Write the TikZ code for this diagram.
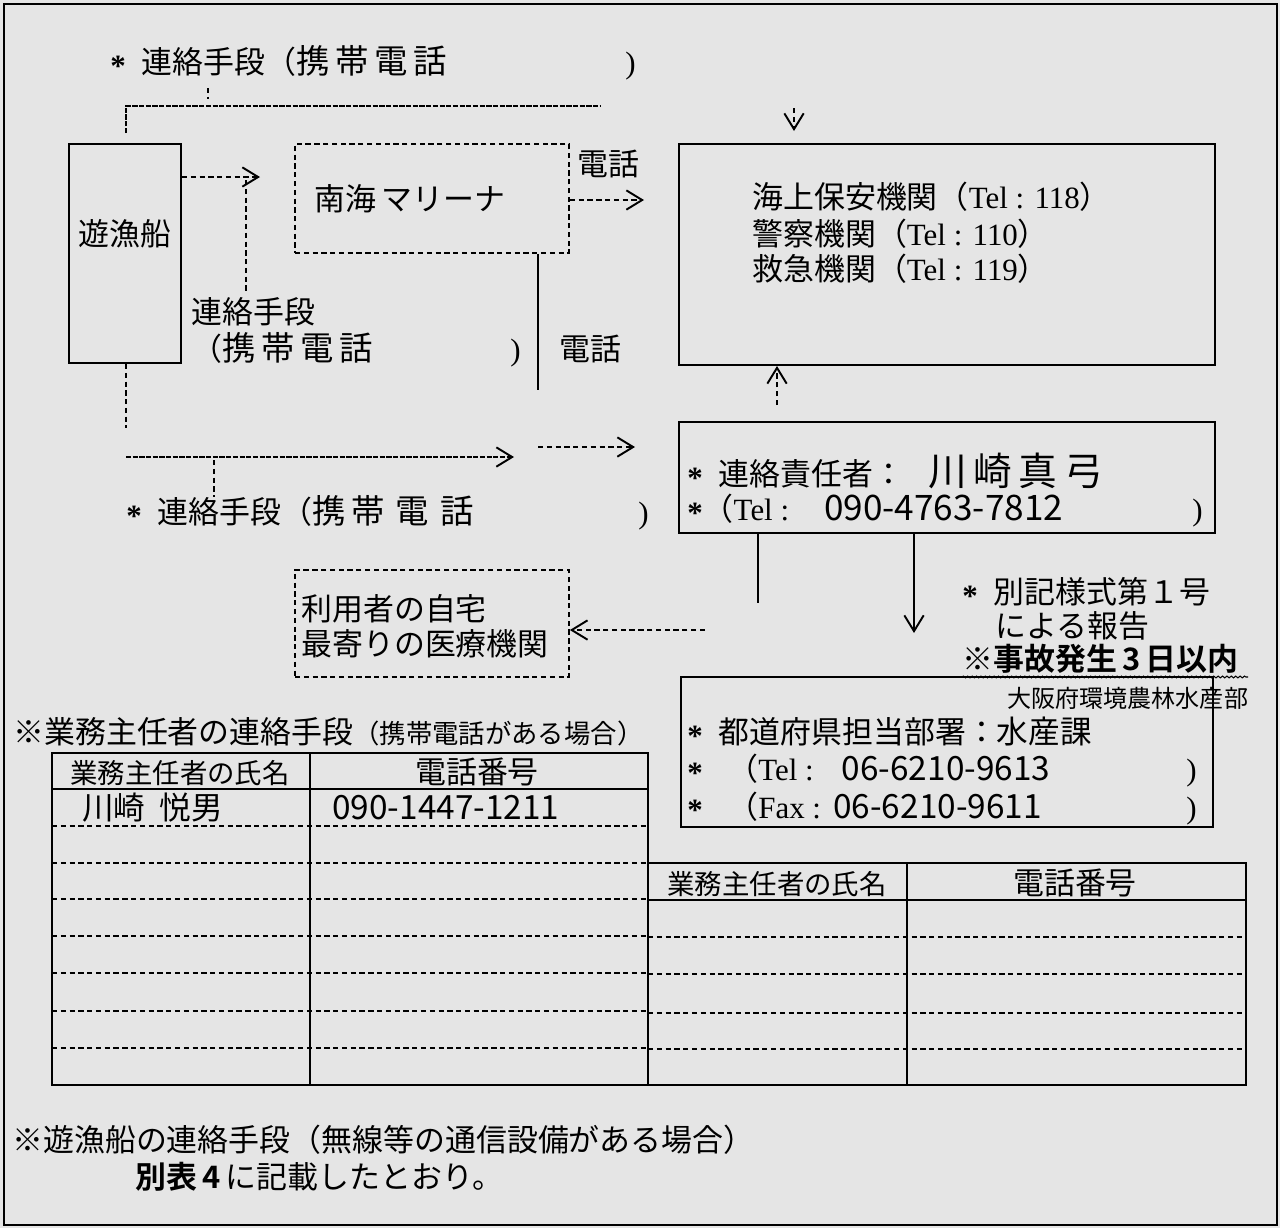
\documentclass[tikz,border=0pt]{standalone}
\usepackage{fontspec}
\setmainfont{Liberation Serif}
\newfontfamily\jp{Noto Sans CJK JP}[BoldFont={Noto Sans CJK JP Bold}]
\usetikzlibrary{arrows.meta,fit,decorations.pathmorphing}
\newcommand\lat[1]{{\rmfamily #1}}
\newcommand\fs[2]{{\fontsize{#1}{#1}\selectfont #2}}
\newcommand\stR{\raisebox{-0.07em}{\lat{\bfseries *}}}
\begin{document}
\begin{tikzpicture}[x=0.02cm,y=-0.02cm,
  every node/.style={inner sep=0pt},
  t/.style={anchor=west, font=\jp\fontsize{17.6}{20}\selectfont, text height=14pt, text depth=1.5pt},
  tc/.style={t, anchor=center},
  frame/.style={draw, line width=1.1pt},
  dframe/.style={draw, line width=1pt, dash pattern=on 3pt off 2pt},
  dsh/.style={line width=1pt, dash pattern=on 3pt off 2pt},
  dns/.style={line width=1.2pt, dash pattern=on 3pt off 0.8pt},
  sol/.style={line width=1pt},
  arr/.style={-{Straight Barb[length=9pt,width=11pt,line width=1.1pt]}},
]
\useasboundingbox (0,0) rectangle (1280,1228);
\fill[black!10] (0,0) rectangle (1280,1228);
\draw[line width=1pt] (4,4) rectangle (1277,1225);

% top label
\node[t] (lbl1) at (110,63) {\stR\hspace{9pt}連絡手段（\fs{19}{携\,帯\,電\,話}};
\node[t] (lbl1r) at (625,63) {\lat{)}};
\coordinate (tk1) at (208,88);
\coordinate (tk2) at (208,99);
\draw[dsh] (tk1) -- (tk2);
\coordinate (p1) at (126,133);
\coordinate (p2) at (126,106);
\coordinate (p3) at (600,106);
\draw[dns] (p1) -- (p2) -- (p3);

% boxes
\node[frame, fit={(69,144)(181,363)}] (yu) {};
\node[tc] (yut) at (125,235) {遊漁船};

\node[dframe, fit={(295,144)(569,253)}] (nm) {};
\node[tc] (nmt) at (410,200) {\fs{17.6}{南海\,マリーナ}};

\node[frame, fit={(679,144)(1215,365)}] (kai) {};
\node[t] (k1) at (752,198) {海上保安機関（\lat{Tel : 118}）};
\node[t] (k2) at (752,235) {警察機関（\lat{Tel : 110}）};
\node[t] (k3) at (752,270) {救急機関（\lat{Tel : 119}）};

\node[frame, fit={(679,422)(1215,533)}] (rr) {};
\node[t] (r1) at (687,475) {\stR\hspace{9pt}連絡責任者：\hspace{14pt}\fs{22}{川\,崎\,真\,弓}};
\node[t] (r2) at (687,510) {\stR（\lat{Tel :}\hspace{20pt}\fs{20}{090-4763-7812}};
\node[t] (r2r) at (1192,510) {\lat{)}};

\node[frame, fit={(681,677)(1213,827)}] (td) {};
\node[t] (tdh) at (1007,697) {\fs{13.7}{大阪府環境農林水産部}};
\node[t] (f1) at (687,733) {\stR\hspace{9pt}都道府県担当部署：\fs{18}{水産課}};
\node[t] (f2) at (687,770) {\stR\hspace{14pt}（\lat{Tel :}\hspace{16pt}\fs{19}{06-6210-9613}};
\node[t] (f2r) at (1186,770) {\lat{)}};
\node[t] (f3) at (687,807) {\stR\hspace{14pt}（\lat{Fax :}\hspace{7pt}\fs{19}{06-6210-9611}};
\node[t] (f3r) at (1186,807) {\lat{)}};

\node[dframe, fit={(295,570)(569,677)}] (us) {};
\node[t] (u1) at (301,610) {利用者の自宅};
\node[t] (u2) at (301,645) {最寄りの医療機関};

% connectors upper area
\coordinate (a1) at (260,177);
\draw[dsh,arr] (yu.east |- a1) -- (a1);
\coordinate (v1a) at (246,180);
\coordinate (v1b) at (246,292);
\draw[dsh] (v1a) -- (v1b);
\node[t] (ph1) at (577,165) {電話};
\coordinate (a2) at (644,200);
\draw[dsh,arr] (nm.east |- a2) -- (a2);
\coordinate (v2) at (538,390);
\draw[sol] (nm.south -| v2) -- (v2);
\node[t] (ph2) at (559,350) {電話};
\node[t] (m1) at (191,313) {連絡手段};
\node[t] (m2) at (191,350) {（\fs{19}{携\,帯\,電\,話}};
\node[t] (m2r) at (510,350) {\lat{)}};
\coordinate (a3) at (794,108);
\coordinate (a3e) at (794,131);
\draw[dsh,arr] (a3) -- (a3e);
\coordinate (a4) at (777,405);
\draw[dsh,arr] (a4) -- (a4 |- kai.south);

% lower left connectors
\coordinate (v3) at (126,428);
\draw[dsh] (yu.south -| v3) -- (v3);
\coordinate (h1a) at (126,457);
\coordinate (h1b) at (514,457);
\draw[dns,arr] (h1a) -- (h1b);
\coordinate (tk3) at (214,460);
\coordinate (tk4) at (214,497);
\draw[dsh] (tk3) -- (tk4);
\coordinate (h2a) at (538,447);
\coordinate (h2b) at (635,447);
\draw[dsh,arr] (h2a) -- (h2b);
\node[t] (lbl2) at (126,513) {\stR\hspace{9pt}連絡手段（\fs{19}{携\,帯\,\,電\,\,話}};
\node[t] (lbl2r) at (638,513) {\lat{)}};

% from renraku
\coordinate (v4) at (758,603);
\draw[sol] (rr.south -| v4) -- (v4);
\coordinate (a5) at (914,633);
\draw[sol,arr] (rr.south -| a5) -- (a5);
\node[t] (b1) at (962,593) {\stR\hspace{9pt}別記様式第１号};
\node[t] (b2) at (995,627) {による報告};
\node[t] (b3) at (962,660) {\bfseries ※事故発生\,3\,日以内};
\draw[decorate, decoration={snake, amplitude=0.5pt, segment length=2.5pt}, line width=0.6pt] (b3.south west) ++(0,3) coordinate (w1) -- (w1 -| 1248,0);
\coordinate (q) at (705,630);
\draw[dsh,arr] (q) -- (q -| us.east);

% left table
\node[t] (lth) at (13,733) {※業務主任者の連絡手段\fs{15}{（携帯電話がある場合）}};
\node[frame, fit={(52,753)(648,1085)}] (lt) {};
\draw[sol] (52,789) -- (648,789);
\draw[sol] (310,753) -- (310,1085);
\foreach \yy in {826,863,899,936,973,1011,1048} \draw[dsh] (52,\yy) -- (648,\yy);
\node[tc] (lh1) at (180,772) {\fs{15.6}{業務主任者の氏名}};
\node[tc] (lh2) at (477,772) {電話番号};
\node[t] (lr1) at (82,808) {\fs{18}{川崎\hspace{8pt}悦男}};
\node[t] (lr2) at (332,808) {\fs{19}{090-1447-1211}};

% right table
\node[frame, fit={(648,863)(1246,1085)}] (rt) {};
\draw[sol] (648,900) -- (1246,900);
\draw[sol] (907,863) -- (907,1085);
\foreach \yy in {937,974,1013,1049} \draw[dsh] (648,\yy) -- (1246,\yy);
\node[tc] (rh1) at (777,883) {\fs{15.6}{業務主任者の氏名}};
\node[tc] (rh2) at (1075,883) {電話番号};

% bottom notes
\node[t] (n1) at (12,1140) {※遊漁船の連絡手段（無線等の通信設備がある場合）};
\node[t] (n2) at (135,1177) {{\bfseries 別表\,4\,}に記載したとおり。};
\end{tikzpicture}
\end{document}
